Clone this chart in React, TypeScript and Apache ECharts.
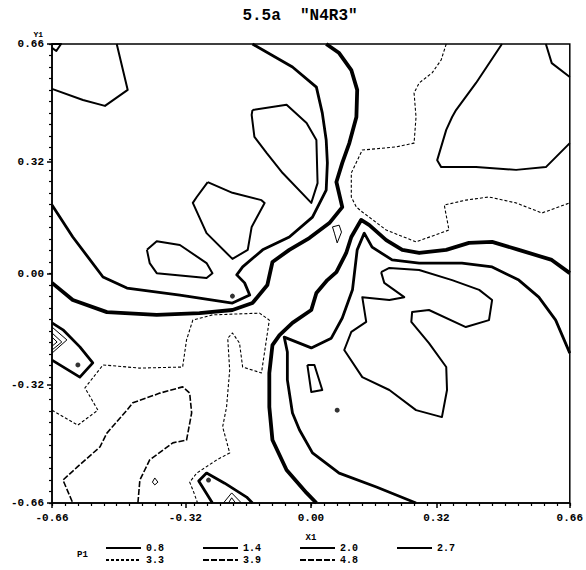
import React, { useEffect, useRef } from "react";
import * as echarts from "echarts";

// ---- axis ticks / labels ----
const tickLabelValues = [-0.66, -0.32, 0, 0.32, 0.66];
const axisMin = -0.66;
const axisMax = 0.66;
const minorTickCount = 40;

// ---- contour levels (legend) ----
const levelsRow1 = ["0.8", "1.4", "2.0", "2.7"];
const levelsRow2 = ["3.3", "3.9", "4.8"];

// ---- contour lines, [X1, Y1] ----
// level 0.8
const nestLeft1 = [[-0.66, -0.154], [-0.622, -0.191], [-0.66, -0.229]];
const nestLeft2 = [[-0.66, -0.171], [-0.635, -0.197], [-0.66, -0.22]];
const nestLeft3 = [[-0.66, -0.183], [-0.647, -0.197], [-0.66, -0.209]];
const nestBottom1 = [[-0.223, -0.66], [-0.202, -0.631], [-0.177, -0.66]];
const nestBottom2 = [[-0.21, -0.66], [-0.202, -0.645], [-0.192, -0.66]];
const tinyLoop = [[-0.398, -0.588], [-0.39, -0.6], [-0.398, -0.608], [-0.404, -0.6], [-0.398, -0.588]];
const tearLoop = [[0.055, 0.134], [0.072, 0.139], [0.078, 0.119], [0.067, 0.088], [0.06, 0.116], [0.055, 0.134]];

// level 1.4
const topLeftArc = [[-0.495, 0.66], [-0.467, 0.528], [-0.525, 0.482], [-0.581, 0.499], [-0.66, 0.531]];
const cornerLoop = [[-0.66, 0.66], [-0.637, 0.66], [-0.649, 0.64], [-0.66, 0.649]];
const teardrop = [[-0.149, 0.47], [-0.062, 0.485], [-0.011, 0.433], [0.014, 0.384], [0.017, 0.26], [0.001, 0.203], [-0.072, 0.289], [-0.113, 0.347], [-0.144, 0.393], [-0.151, 0.456], [-0.149, 0.47]];
const pentagon = [[-0.263, 0.263], [-0.2, 0.232], [-0.126, 0.211], [-0.118, 0.203], [-0.151, 0.134], [-0.161, 0.068], [-0.2, 0.042], [-0.266, 0.116], [-0.301, 0.203], [-0.291, 0.22], [-0.263, 0.263]];
const leaf = [[-0.418, 0.068], [-0.393, 0.093], [-0.334, 0.082], [-0.266, 0.03], [-0.251, 0.001], [-0.266, -0.013], [-0.393, 0.001], [-0.411, 0.03], [-0.418, 0.068]];
const hand = [[0.179, 0.004], [0.2, 0.016], [0.276, 0.01], [0.36, -0.019], [0.429, -0.047], [0.462, -0.076], [0.454, -0.134], [0.395, -0.154], [0.301, -0.105], [0.258, -0.111], [0.256, -0.139], [0.301, -0.2], [0.345, -0.269], [0.347, -0.335], [0.334, -0.413], [0.268, -0.393], [0.2, -0.335], [0.131, -0.298], [0.085, -0.22], [0.103, -0.168], [0.141, -0.139], [0.131, -0.068], [0.2, -0.076], [0.238, -0.068], [0.187, -0.027], [0.179, 0.004]];
const topRightArc = [[0.487, 0.66], [0.421, 0.548], [0.37, 0.47], [0.36, 0.45], [0.345, 0.413], [0.322, 0.326], [0.332, 0.306], [0.421, 0.306], [0.523, 0.298], [0.599, 0.306], [0.66, 0.375]];
const cornerRight = [[0.599, 0.66], [0.614, 0.605], [0.66, 0.565]];
const smallRect = [[-0.009, -0.263], [0.009, -0.263], [0.029, -0.335], [0.001, -0.341], [-0.009, -0.263]];

// level 2.0
const leftBend = [[-0.66, 0.197], [-0.607, 0.105], [-0.53, -0.01], [-0.469, -0.042], [-0.334, -0.062], [-0.2, -0.085], [-0.156, -0.062], [-0.169, -0.027], [-0.189, -0.004], [-0.174, 0.019], [-0.123, 0.068], [-0.055, 0.105], [0.004, 0.162], [0.039, 0.24], [0.042, 0.318], [0.039, 0.384], [0.029, 0.462], [0.014, 0.536], [-0.047, 0.594], [-0.149, 0.66]];
const rightInner = [[0.66, -0.229], [0.624, -0.134], [0.581, -0.068], [0.53, -0.019], [0.462, 0.019], [0.385, 0.03], [0.276, 0.03], [0.207, 0.039], [0.156, 0.076], [0.136, 0.116], [0.118, 0.068], [0.106, -0.047], [0.08, -0.128], [0.052, -0.186], [0.001, -0.214], [-0.068, -0.183], [-0.06, -0.226], [-0.06, -0.306], [-0.047, -0.401], [-0.029, -0.45], [0.004, -0.516], [0.072, -0.574], [0.167, -0.614], [0.268, -0.66]];
const leftCluster = [[-0.66, -0.142], [-0.632, -0.162], [-0.589, -0.211], [-0.556, -0.257], [-0.589, -0.298], [-0.66, -0.249]];
const bottomCluster = [[-0.251, -0.66], [-0.286, -0.597], [-0.266, -0.574], [-0.22, -0.603], [-0.164, -0.643], [-0.149, -0.66]];

// level 2.7
const ridgeLeft = [[-0.66, -0.027], [-0.607, -0.076], [-0.52, -0.111], [-0.393, -0.119], [-0.284, -0.114], [-0.2, -0.105], [-0.149, -0.085], [-0.111, -0.033], [-0.098, 0.033], [-0.055, 0.068], [-0.004, 0.102], [0.047, 0.145], [0.08, 0.191], [0.065, 0.263], [0.08, 0.318], [0.098, 0.375], [0.116, 0.45], [0.118, 0.528], [0.103, 0.585], [0.072, 0.634], [0.039, 0.66]];
const ridgeRight = [[0.66, 0.001], [0.614, 0.039], [0.53, 0.068], [0.462, 0.091], [0.403, 0.088], [0.345, 0.068], [0.276, 0.059], [0.233, 0.068], [0.192, 0.096], [0.149, 0.139], [0.128, 0.154], [0.103, 0.105], [0.09, 0.059], [0.065, 0.004], [0.042, -0.019], [0.014, -0.056], [0.001, -0.105], [-0.047, -0.142], [-0.08, -0.177], [-0.098, -0.206], [-0.106, -0.286], [-0.106, -0.384], [-0.098, -0.479], [-0.062, -0.565], [-0.011, -0.631], [0.014, -0.66]];

// level 3.3
const dashedUpper = [[0.345, 0.66], [0.332, 0.614], [0.309, 0.577], [0.276, 0.548], [0.263, 0.519], [0.268, 0.45], [0.263, 0.375], [0.217, 0.364], [0.131, 0.355], [0.103, 0.289], [0.103, 0.22], [0.116, 0.191], [0.131, 0.177], [0.192, 0.125], [0.268, 0.091], [0.352, 0.125], [0.34, 0.197], [0.395, 0.211], [0.454, 0.22], [0.523, 0.203], [0.589, 0.174], [0.66, 0.203]];
const dashedLower = [[-0.66, -0.393], [-0.594, -0.436], [-0.543, -0.393], [-0.576, -0.329], [-0.53, -0.263], [-0.436, -0.272], [-0.327, -0.269], [-0.317, -0.191], [-0.301, -0.134], [-0.251, -0.119], [-0.131, -0.114], [-0.106, -0.134], [-0.126, -0.286], [-0.174, -0.269], [-0.182, -0.2], [-0.2, -0.171], [-0.212, -0.186], [-0.207, -0.278], [-0.215, -0.384], [-0.225, -0.441], [-0.207, -0.516], [-0.24, -0.536], [-0.291, -0.574], [-0.309, -0.6], [-0.299, -0.628], [-0.289, -0.66]];

// level 3.9
const lowerLeftU = [[-0.441, -0.66], [-0.436, -0.594], [-0.411, -0.536], [-0.352, -0.487], [-0.317, -0.479], [-0.304, -0.401], [-0.309, -0.344], [-0.327, -0.326], [-0.385, -0.344], [-0.454, -0.372], [-0.469, -0.393], [-0.52, -0.459], [-0.538, -0.499], [-0.596, -0.557], [-0.632, -0.594], [-0.607, -0.66]];

// small closed spots drawn as dots
const spots = [[-0.594, -0.263], [-0.2, -0.065], [-0.261, -0.594], [0.067, -0.393]];

const contoursByLevel: Record<string, number[][][]> = {
  "0.8": [nestLeft1, nestLeft2, nestLeft3, nestBottom1, nestBottom2, tinyLoop, tearLoop],
  "1.4": [topLeftArc, cornerLoop, teardrop, pentagon, leaf, hand, topRightArc, cornerRight, smallRect],
  "2.0": [leftBend, rightInner, leftCluster, bottomCluster],
  "2.7": [ridgeLeft, ridgeRight],
  "3.3": [dashedUpper, dashedLower],
  "3.9": [lowerLeftU],
  "4.8": [],
};

const levelStyle: Record<string, { width: number; type: any }> = {
  "0.8": { width: 1, type: "solid" },
  "1.4": { width: 2, type: "solid" },
  "2.0": { width: 2.8, type: "solid" },
  "2.7": { width: 3.8, type: "solid" },
  "3.3": { width: 1.1, type: [3, 2] },
  "3.9": { width: 1.6, type: [6, 2] },
  "4.8": { width: 2.6, type: [6, 2] },
};

const FONT = "Liberation Mono";

export default function App() {
  const ref = useRef<HTMLDivElement>(null);
  useEffect(() => {
    document.body.style.margin = "0";
    if (!ref.current) return;
    const chart = echarts.init(ref.current, null, { renderer: "svg" });
    const minorTicks: number[] = [];
    for (let i = 0; i <= minorTickCount; i++) {
      minorTicks.push(axisMin + ((axisMax - axisMin) * i) / minorTickCount);
    }
    const series: any[] = [];
    [...levelsRow1, ...levelsRow2].forEach((lv) => {
      const lines = contoursByLevel[lv];
      const st = levelStyle[lv];
      if (lines.length === 0) {
        series.push({ type: "line", name: lv, data: [], symbol: "none", lineStyle: { color: "#000", width: st.width, type: st.type } });
      }
      lines.forEach((pts) => {
        series.push({
          type: "line",
          name: lv,
          data: pts,
          symbol: "none",
          silent: true,
          lineStyle: { color: "#000", width: st.width, type: st.type, join: "round" },
        });
      });
    });
    series.push({
      type: "scatter",
      name: "spots",
      data: spots,
      symbolSize: 5,
      itemStyle: { color: "#000" },
      silent: true,
    });
    const labelStyle = { fontFamily: FONT, fontWeight: "bold" as const, fontSize: 11, color: "#000" };
    const legendBase = {
      left: 105,
      orient: "horizontal" as const,
      itemWidth: 35,
      itemHeight: 8,
      itemGap: 38,
      padding: 0,
      selectedMode: false,
      itemStyle: { opacity: 0 },
      textStyle: { fontFamily: FONT, fontWeight: "bold" as const, fontSize: 10, color: "#000", padding: [0, 0, 0, 0] },
    };
    chart.setOption({
      animation: false,
      backgroundColor: "#fff",
      title: {
        text: '5.5a  "N4R3"',
        left: 300,
        textAlign: "center",
        top: 8,
        padding: 0,
        textStyle: { fontFamily: FONT, fontWeight: "bold", fontSize: 16, color: "#000" },
      },
      grid: { left: 52, right: 15, top: 44, bottom: 67, show: true, borderColor: "#000", borderWidth: 1.5, backgroundColor: "transparent" },
      legend: [
        { ...legendBase, top: 543, data: levelsRow1 },
        { ...legendBase, top: 555, data: levelsRow2 },
      ],
      graphic: [
        {
          type: "text",
          left: 77,
          top: 550,
          style: { text: "P1", fontFamily: FONT, fontWeight: "bold", fontSize: 9, fill: "#000" },
        },
      ],
      xAxis: [
        {
          type: "value",
          min: axisMin,
          max: axisMax,
          name: "X1",
          nameLocation: "middle",
          nameGap: 30,
          nameTextStyle: { fontFamily: FONT, fontWeight: "bold", fontSize: 9, color: "#000" },
          axisLine: { show: true, onZero: false, lineStyle: { color: "#000", width: 1.5 } },
          axisTick: { show: true, customValues: minorTicks, length: 3, lineStyle: { color: "#000", width: 1.2 } },
          axisLabel: {
            customValues: tickLabelValues,
            margin: 9,
            formatter: (v: number) => v.toFixed(2),
            ...labelStyle,
          },
          splitLine: { show: false },
        },
        {
          type: "value",
          min: axisMin,
          max: axisMax,
          position: "bottom",
          axisLine: { show: false, onZero: false },
          axisTick: { show: true, customValues: tickLabelValues, length: 5, lineStyle: { color: "#000", width: 1.5 } },
          axisLabel: { show: false },
          splitLine: { show: false },
        },
      ],
      yAxis: [
        {
          type: "value",
          min: axisMin,
          max: axisMax,
          name: "Y1",
          nameLocation: "end",
          nameGap: 5,
          nameTextStyle: { fontFamily: FONT, fontWeight: "bold", fontSize: 8, color: "#000", align: "right", verticalAlign: "bottom", padding: [0, 9, 0, 0] },
          axisLine: { show: true, onZero: false, lineStyle: { color: "#000", width: 1.5 } },
          axisTick: { show: true, customValues: minorTicks, length: 3, lineStyle: { color: "#000", width: 1.2 } },
          axisLabel: {
            customValues: tickLabelValues,
            margin: 8,
            formatter: (v: number) => v.toFixed(2),
            ...labelStyle,
          },
          splitLine: { show: false },
        },
        {
          type: "value",
          min: axisMin,
          max: axisMax,
          position: "left",
          axisLine: { show: false, onZero: false },
          axisTick: { show: true, customValues: tickLabelValues, length: 5, lineStyle: { color: "#000", width: 1.5 } },
          axisLabel: { show: false },
          splitLine: { show: false },
        },
      ],
      series,
    });
    return () => chart.dispose();
  }, []);
  return <div ref={ref} style={{ width: 586, height: 570 }} />;
}
